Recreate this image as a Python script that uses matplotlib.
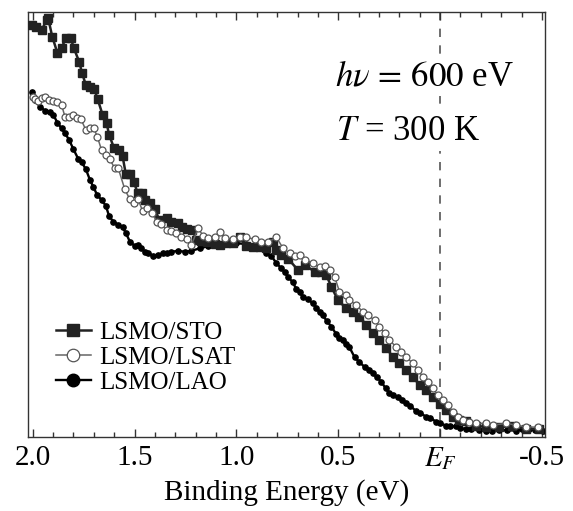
import numpy as np
import matplotlib
matplotlib.use('Agg')
import matplotlib.pyplot as plt

plt.rcParams['font.family'] = 'serif'
plt.rcParams['font.serif'] = ['Liberation Serif', 'DejaVu Serif']
plt.rcParams['mathtext.fontset'] = 'stix'

# binding energy (eV) and intensity (arb. units)
sto_e = [2.005, 1.984, 1.956, 1.931, 1.924, 1.904, 1.879, 1.858, 1.837, 1.814,
         1.798, 1.772, 1.758, 1.739, 1.717, 1.699, 1.681, 1.657, 1.637, 1.625,
         1.600, 1.577, 1.559, 1.543, 1.522, 1.503, 1.485, 1.464, 1.448, 1.425,
         1.400, 1.379, 1.343, 1.319, 1.286, 1.265, 1.245, 1.216, 1.196, 1.172,
         1.139, 1.106, 1.082, 1.049, 1.017, 0.984, 0.951, 0.919, 0.886, 0.853,
         0.821, 0.804, 0.779, 0.747, 0.698, 0.665, 0.616, 0.583, 0.559, 0.534,
         0.502, 0.461, 0.428, 0.396, 0.363, 0.330, 0.298, 0.265, 0.232, 0.200,
         0.167, 0.134, 0.101, 0.069, 0.036, 0.003, -0.029, -0.062, -0.095, -0.127,
         -0.176, -0.225, -0.291, -0.354, -0.422, -0.487]
sto_i = [0.969, 0.965, 0.958, 0.981, 0.985, 0.942, 0.904, 0.915, 0.940, 0.940,
         0.915, 0.883, 0.857, 0.828, 0.824, 0.820, 0.795, 0.758, 0.738, 0.711,
         0.679, 0.675, 0.661, 0.619, 0.619, 0.599, 0.575, 0.573, 0.558, 0.550,
         0.536, 0.511, 0.515, 0.507, 0.503, 0.495, 0.489, 0.487, 0.464, 0.462,
         0.460, 0.454, 0.452, 0.456, 0.457, 0.470, 0.449, 0.448, 0.446, 0.445,
         0.459, 0.440, 0.428, 0.420, 0.393, 0.405, 0.389, 0.389, 0.381, 0.354,
         0.322, 0.303, 0.295, 0.283, 0.264, 0.244, 0.228, 0.209, 0.189, 0.173,
         0.158, 0.142, 0.122, 0.111, 0.095, 0.078, 0.064, 0.048, 0.040, 0.038,
         0.026, 0.024, 0.023, 0.026, 0.020, 0.018]

lsat_e = [2.000, 1.989, 1.973, 1.956, 1.940, 1.920, 1.899, 1.879, 1.858, 1.842,
          1.821, 1.801, 1.781, 1.763, 1.739, 1.719, 1.700, 1.683, 1.662, 1.641,
          1.621, 1.597, 1.580, 1.548, 1.523, 1.502, 1.482, 1.461, 1.441, 1.412,
          1.392, 1.368, 1.343, 1.319, 1.298, 1.270, 1.245, 1.221, 1.188, 1.164,
          1.139, 1.106, 1.082, 1.057, 1.017, 0.984, 0.951, 0.910, 0.877, 0.845,
          0.804, 0.772, 0.739, 0.714, 0.690, 0.665, 0.625, 0.592, 0.567, 0.543,
          0.518, 0.494, 0.461, 0.445, 0.413, 0.380, 0.355, 0.322, 0.298, 0.273,
          0.249, 0.216, 0.191, 0.167, 0.134, 0.110, 0.085, 0.061, 0.036, 0.012,
          -0.013, -0.037, -0.062, -0.086, -0.111, -0.144, -0.176, -0.225, -0.258, -0.324,
          -0.373, -0.422, -0.478]
lsat_i = [0.801, 0.795, 0.791, 0.797, 0.801, 0.793, 0.791, 0.789, 0.781, 0.754,
          0.752, 0.758, 0.750, 0.748, 0.722, 0.726, 0.726, 0.707, 0.675, 0.664,
          0.653, 0.632, 0.632, 0.583, 0.559, 0.551, 0.559, 0.532, 0.538, 0.526,
          0.507, 0.501, 0.487, 0.485, 0.481, 0.471, 0.465, 0.452, 0.491, 0.474,
          0.468, 0.470, 0.483, 0.469, 0.465, 0.471, 0.470, 0.465, 0.460, 0.458,
          0.470, 0.445, 0.432, 0.426, 0.428, 0.416, 0.409, 0.399, 0.402, 0.393,
          0.377, 0.342, 0.334, 0.322, 0.311, 0.295, 0.287, 0.275, 0.260, 0.244,
          0.228, 0.212, 0.201, 0.189, 0.173, 0.158, 0.142, 0.130, 0.115, 0.099,
          0.087, 0.075, 0.060, 0.048, 0.040, 0.036, 0.032, 0.032, 0.028, 0.032,
          0.028, 0.024, 0.023]

lao_e = [2.005, 1.989, 1.964, 1.940, 1.915, 1.899, 1.879, 1.858, 1.842, 1.821,
         1.801, 1.776, 1.760, 1.739, 1.719, 1.703, 1.683, 1.662, 1.641, 1.625,
         1.605, 1.580, 1.559, 1.543, 1.523, 1.498, 1.482, 1.466, 1.450, 1.433,
         1.409, 1.384, 1.361, 1.342, 1.319, 1.286, 1.253, 1.221, 1.180, 1.139,
         1.098, 1.049, 1.000, 0.951, 0.919, 0.886, 0.853, 0.828, 0.804, 0.779,
         0.763, 0.747, 0.723, 0.706, 0.690, 0.674, 0.649, 0.626, 0.608, 0.592,
         0.575, 0.557, 0.534, 0.510, 0.494, 0.477, 0.461, 0.445, 0.420, 0.396,
         0.371, 0.347, 0.330, 0.312, 0.289, 0.268, 0.249, 0.229, 0.208, 0.185,
         0.167, 0.146, 0.118, 0.097, 0.069, 0.048, 0.020, -0.001, -0.029, -0.050,
         -0.078, -0.100, -0.127, -0.153, -0.193, -0.225, -0.256, -0.291, -0.330, -0.373,
         -0.403, -0.438, -0.467, -0.503]
lao_i = [0.812, 0.793, 0.777, 0.768, 0.765, 0.758, 0.740, 0.726, 0.715, 0.699,
         0.678, 0.654, 0.647, 0.630, 0.605, 0.589, 0.569, 0.558, 0.544, 0.520,
         0.507, 0.500, 0.494, 0.480, 0.460, 0.449, 0.452, 0.444, 0.436, 0.434,
         0.426, 0.429, 0.432, 0.434, 0.436, 0.438, 0.436, 0.438, 0.444, 0.449,
         0.452, 0.454, 0.456, 0.454, 0.449, 0.444, 0.433, 0.426, 0.409, 0.397,
         0.388, 0.377, 0.364, 0.348, 0.342, 0.329, 0.324, 0.315, 0.304, 0.294,
         0.286, 0.273, 0.260, 0.242, 0.234, 0.228, 0.219, 0.211, 0.188, 0.176,
         0.165, 0.158, 0.150, 0.141, 0.130, 0.115, 0.103, 0.099, 0.094, 0.087,
         0.079, 0.073, 0.061, 0.056, 0.048, 0.045, 0.036, 0.032, 0.027, 0.025,
         0.025, 0.021, 0.018, 0.018, 0.016, 0.013, 0.014, 0.016, 0.016, 0.015,
         0.018, 0.018, 0.016, 0.013]

tick_pos = [2.0, 1.5, 1.0, 0.5, 0.0, -0.5]
tick_lab = ['2.0', '1.5', '1.0', '0.5', r'$E_F$', '-0.5']

fig = plt.figure(figsize=(5.73, 5.11), dpi=100)
ax = fig.add_axes([0.0489, 0.1448, 0.9023, 0.8317])

ax.axvline(0, color='#555555', lw=1.2, ls=(0, (5, 5)), zorder=1)

ax.plot(sto_e, sto_i, '-s', color='#222222', lw=1.8, ms=5.8,
        mfc='#222222', mec='#222222', label='LSMO/STO', zorder=3)
ax.plot(lsat_e, lsat_i, '-o', color='#666666', lw=1.1, ms=5,
        mfc='white', mec='#555555', mew=0.9, label='LSMO/LSAT', zorder=4)
ax.plot(lao_e, lao_i, '-o', color='black', lw=1.7, ms=3.8,
        mfc='black', mec='black', label='LSMO/LAO', zorder=2)

ax.set_xlim(2.023, -0.515)
ax.set_ylim(0, 1)
ax.set_xticks(tick_pos)
ax.set_xticklabels(tick_lab)
ax.set_xticks(np.arange(-0.5, 2.01, 0.1), minor=True)
ax.set_yticks([])
ax.tick_params(axis='x', which='both', direction='in', top=True, labelsize=21,
               pad=6, color='#333333')
ax.tick_params(axis='x', which='major', length=6, width=1)
ax.tick_params(axis='x', which='minor', length=3.5, width=1)
for s in ax.spines.values():
    s.set_color('#333333')
    s.set_linewidth(1.0)

ax.set_xlabel('Binding Energy (eV)', fontsize=21, labelpad=5)

tb = dict(facecolor='white', edgecolor='none', pad=2)
ax.text(0.594, 0.828, r'$h\nu\,=\,600$ eV', transform=ax.transAxes,
        fontsize=25, va='baseline', bbox=tb, zorder=5)
ax.text(0.596, 0.699, r'$T$ = 300 K', transform=ax.transAxes,
        fontsize=25, va='baseline', bbox=tb, zorder=5)

leg = ax.legend(loc='upper left', bbox_to_anchor=(0.054, 0.272), frameon=False,
                fontsize=18, handlelength=1.4, handletextpad=0.35, labelspacing=0.1,
                borderpad=0, borderaxespad=0)
for h in leg.legend_handles:
    h.set_markersize(9)

fig.savefig('out.png', dpi=100)
